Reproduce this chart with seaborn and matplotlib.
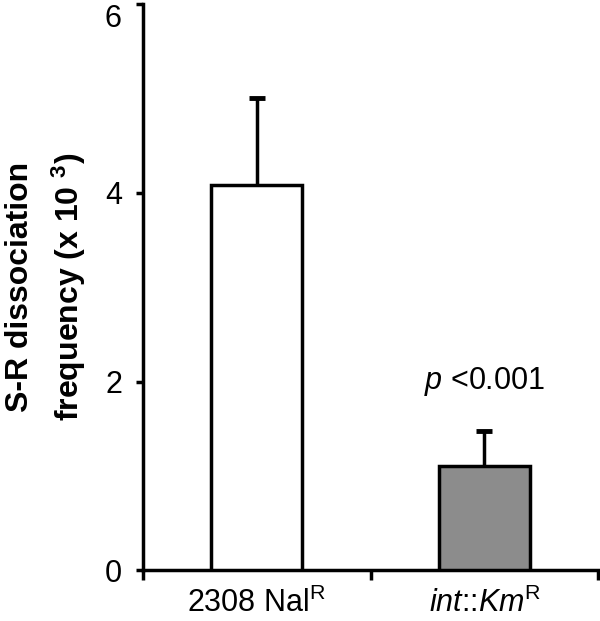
import matplotlib
matplotlib.use("Agg")
import matplotlib.pyplot as plt
import seaborn as sns

sns.set_style("ticks")
plt.rcParams["font.family"] = ["Liberation Sans", "DejaVu Sans"]
plt.rcParams["mathtext.fontset"] = "custom"
plt.rcParams["mathtext.rm"] = "Liberation Sans"
plt.rcParams["mathtext.it"] = "Liberation Sans:italic"
plt.rcParams["mathtext.bf"] = "Liberation Sans:bold"
plt.rcParams["text.color"] = "black"
plt.rcParams["axes.labelcolor"] = "black"
plt.rcParams["xtick.color"] = "black"
plt.rcParams["ytick.color"] = "black"
plt.rcParams["axes.edgecolor"] = "black"

# data
strains = ["2308 Nal$^\\mathregular{R}$", "$\\mathit{int}$::$\\mathit{Km}$$^\\mathregular{R}$"]
frequency = [4.08, 1.10]
sem = [0.93, 0.37]
bar_colors = ["#ffffff", "#8c8c8c"]
p_text = "$\\it{p}$ <0.001"

fig = plt.figure(figsize=(6, 6.21), dpi=100)
ax = fig.add_axes([0.238, 0.082, 0.759, 0.911])

sns.barplot(x=strains, y=frequency, hue=strains, palette=bar_colors,
            edgecolor="black", linewidth=2.5, width=0.4, legend=False, ax=ax, zorder=3)
eb = ax.errorbar(x=[0, 1], y=frequency, yerr=[[0, 0], sem], fmt="none",
                 ecolor="black", elinewidth=2.5, capsize=6, capthick=3.5, zorder=2)
eb[1][0].set_visible(False)  # no cap at the bar top

ax.text(1, 2.0, p_text, ha="center", va="center", fontsize=22)

ax.set_ylim(0, 6)
ax.set_xlim(-0.5, 1.5)
ax.set_yticks([0, 2, 4, 6])
ax.tick_params(axis="y", labelsize=22, width=2.5, length=5, pad=10)
ax.get_yticklabels()[-1].set_va("top")
ax.set_xticks([0, 1])
ax.set_xticklabels(strains)
ax.tick_params(axis="x", which="major", length=0, labelsize=22, pad=13)
ax.set_xticks([-0.5, 0.5, 1.5], minor=True)
ax.tick_params(axis="x", which="minor", length=7, width=2.5, direction="out")

ax.set_ylabel("S-R dissociation\nfrequency (x 10 $^\\mathregular{3}$)",
              fontsize=23, fontweight="bold", labelpad=12, linespacing=1.5)

for side in ["top", "right"]:
    ax.spines[side].set_visible(False)
for side in ["left", "bottom"]:
    ax.spines[side].set_linewidth(2.5)

fig.savefig("out.png", dpi=100)
